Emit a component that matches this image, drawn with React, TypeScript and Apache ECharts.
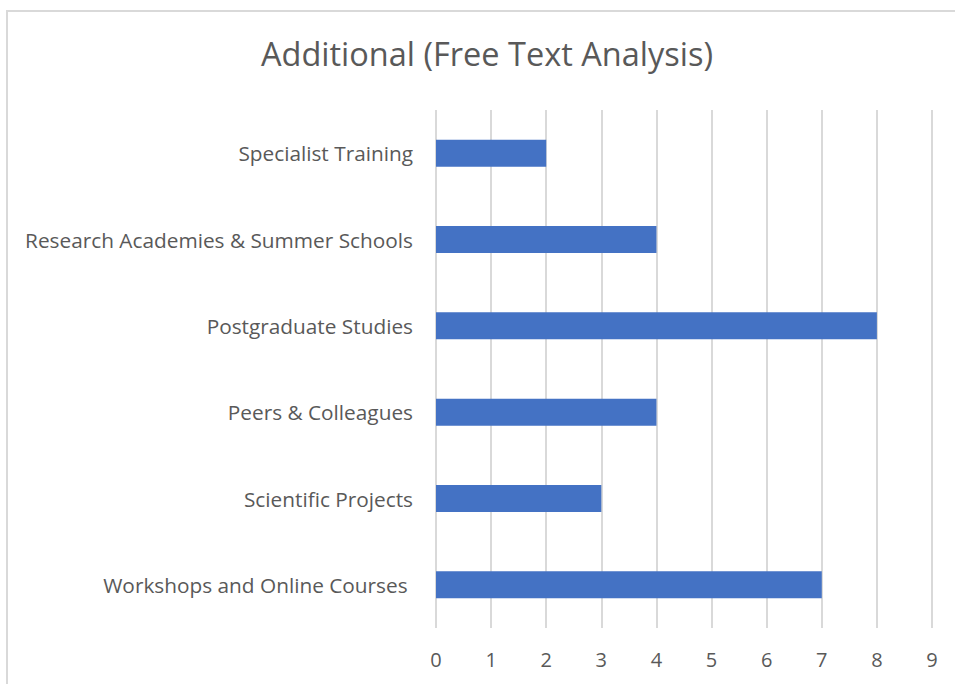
import React, { useEffect, useRef } from "react";
import * as echarts from "echarts";

const categories = [
  "Workshops and Online Courses ",
  "Scientific Projects",
  "Peers & Colleagues",
  "Postgraduate Studies",
  "Research Academies & Summer Schools",
  "Specialist Training",
];
const values = [7, 3, 4, 8, 4, 2];
const titleText = "Additional (Free Text Analysis)";

export default function App() {
  const ref = useRef<HTMLDivElement>(null);
  useEffect(() => {
    if (!ref.current) return;
    const chart = echarts.init(ref.current, null, { renderer: "svg" });
    chart.setOption({
      animation: false,
      backgroundColor: "#ffffff",
      textStyle: { fontFamily: "Open Sans" },
      title: {
        text: titleText,
        left: 482,
        top: 32,
        textAlign: "center",
        textStyle: { fontFamily: "Open Sans", fontSize: 32.5, fontWeight: "normal", color: "#595959" },
      },
      graphic: [
        {
          type: "rect",
          shape: { x: 7, y: 11, width: 960, height: 700 },
          style: { fill: "none", stroke: "#d9d9d9", lineWidth: 2 },
          silent: true,
        },
      ],
      grid: { left: 436, right: 23, top: 110, bottom: 56, containLabel: false },
      xAxis: {
        type: "value",
        min: 0,
        max: 9,
        interval: 1,
        axisLine: { show: false },
        axisTick: { show: false },
        splitLine: { show: true, lineStyle: { color: "#d9d9d9", width: 2 } },
        axisLabel: { color: "#595959", fontSize: 20, margin: 21, fontFamily: "Open Sans" },
      },
      yAxis: {
        type: "category",
        data: categories,
        axisLine: { show: false },
        axisTick: { show: false },
        axisLabel: { color: "#595959", fontSize: 20.8, margin: 23, fontFamily: "Open Sans" },
      },
      series: [
        {
          type: "bar",
          data: values,
          barWidth: 27,
          itemStyle: { color: "#4472C4" },
        },
      ],
    });
    return () => chart.dispose();
  }, []);
  return (
    <div
      ref={ref}
      style={{ position: "absolute", left: 0, top: 0, width: 955, height: 684 }}
    />
  );
}
